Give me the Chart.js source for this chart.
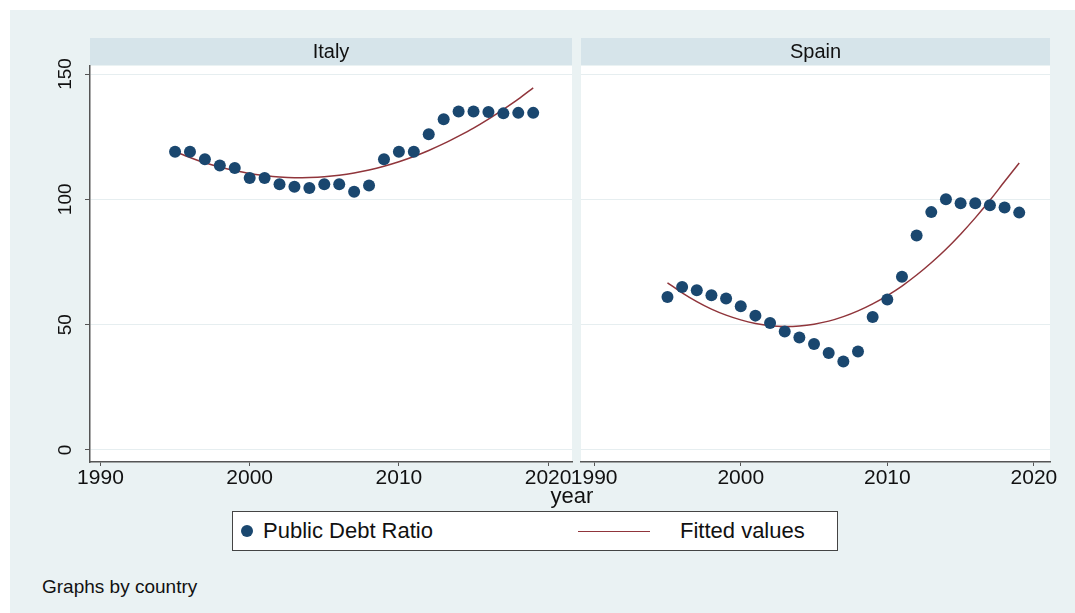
<!DOCTYPE html>
<html>
<head>
<meta charset="utf-8">
<script src="https://cdn.jsdelivr.net/npm/chart.js@4.4.1/dist/chart.umd.min.js"></script>
<style>
  html,body{margin:0;padding:0;}
  body{width:1075px;height:613px;background:#ffffff;position:relative;overflow:hidden;font-family:"Liberation Sans",Arial,Helvetica,sans-serif;color:#111;}
  #bg{position:absolute;left:10px;top:10px;width:1065px;height:603px;background:#EAF2F3;}
  .panel{position:absolute;}
  #italyBox{left:20px;top:36px;width:560px;height:470px;}
  #spainBox{left:555px;top:36px;width:510px;height:470px;}
  #xtitle{position:absolute;left:522px;width:100px;top:485px;text-align:center;font-size:22px;line-height:22px;color:#111;}
  #legend{position:absolute;left:232px;top:511px;width:604px;height:38px;background:#fff;border:1px solid #444;}
  #legend .dot{position:absolute;left:8px;top:13px;width:12px;height:12px;border-radius:50%;background:#1A476F;}
  #legend .t1{position:absolute;left:30px;top:8px;font-size:22px;line-height:22px;}
  #legend .ln{position:absolute;left:345px;top:19px;width:72px;height:0;border-top:1.6px solid #90353B;}
  #legend .t2{position:absolute;left:447px;top:8px;font-size:22px;line-height:22px;}
  #note{position:absolute;left:42px;top:577px;font-size:19px;line-height:19px;}
</style>
</head>
<body>
<div id="bg"></div>
<div class="panel" id="italyBox"><canvas id="italy"></canvas></div>
<div class="panel" id="spainBox"><canvas id="spain"></canvas></div>
<div id="xtitle">year</div>
<div id="legend"><span class="dot"></span><span class="t1">Public Debt Ratio</span><span class="ln"></span><span class="t2">Fitted values</span></div>
<div id="note">Graphs by country</div>
<script>
const years = [1995,1996,1997,1998,1999,2000,2001,2002,2003,2004,2005,2006,2007,2008,2009,2010,2011,2012,2013,2014,2015,2016,2017,2018,2019];
const italyDebt = [119,119,116,113.5,112.5,108.5,108.5,106,105,104.5,106,106,103,105.5,116,119,119,126,132,135,135,134.8,134.3,134.5,134.5];
const italyFit  = [119.0,116.7,114.6,112.9,111.5,110.3,109.5,108.9,108.6,108.7,109.0,109.6,110.5,111.7,113.2,115.0,117.1,119.5,122.2,125.2,128.4,132.0,135.9,140.0,144.5];
const spainDebt = [61,65,63.7,61.7,60.4,57.3,53.6,50.7,47.3,44.9,42.3,38.7,35.3,39.3,53.1,60,69.1,85.6,94.9,100,98.4,98.4,97.6,96.7,94.7];
const spainFit  = [66.7,62.7,59.2,56.2,53.8,51.9,50.5,49.6,49.3,49.5,50.2,51.4,53.2,55.5,58.3,61.6,65.4,69.8,74.7,80.1,86.1,92.6,99.6,107.1,114.5];
const xTicks = [1990,2000,2010,2020];
const yTicks = [0,50,100,150];
const panelNames = ["Italy","Spain"];

const FONT = '"Liberation Sans", Arial, Helvetica, sans-serif';
const MARKER = '#1A476F';
const FIT = '#90353B';
const AXIS = '#555555';
const GRID = '#E6EEF0';

const panelPlugin = {
  id: 'panelDeco',
  beforeDraw(chart, args, opts) {
    const ctx = chart.ctx, a = chart.chartArea;
    ctx.save();
    ctx.fillStyle = '#ffffff';
    ctx.fillRect(a.left, a.top, a.right - a.left, a.bottom - a.top);
    ctx.fillStyle = '#D6E4EA';
    ctx.fillRect(a.left, a.top - 28, a.right - a.left, 27);
    ctx.fillStyle = '#111';
    ctx.font = '20px ' + FONT;
    ctx.textAlign = 'center';
    ctx.textBaseline = 'middle';
    ctx.fillText(opts.title, (a.left + a.right) / 2, a.top - 14);
    ctx.restore();
  },
  afterDraw(chart, args, opts) {
    if (!opts.yLabels) return;
    const ctx = chart.ctx, ys = chart.scales.y, a = chart.chartArea;
    ctx.save();
    ctx.fillStyle = '#111';
    ctx.font = '19px ' + FONT;
    ctx.textAlign = 'center';
    ctx.textBaseline = 'middle';
    yTicks.forEach(v => {
      const py = ys.getPixelForValue(v);
      ctx.save();
      ctx.translate(a.left - 24, py);
      ctx.rotate(-Math.PI / 2);
      ctx.fillText(String(v), 0, 0);
      ctx.restore();
    });
    ctx.restore();
  }
};

function makePanel(canvasId, name, debt, fit, xmin, xmax, yWidth, padRight, showY) {
  const pts = years.map((yr, i) => ({x: yr, y: debt[i]}));
  const fpts = years.map((yr, i) => ({x: yr, y: fit[i]}));
  return new Chart(document.getElementById(canvasId), {
    type: 'scatter',
    data: {
      datasets: [
        {label: 'Fitted values', data: fpts, showLine: true, borderColor: FIT, borderWidth: 1.5, pointRadius: 0, tension: 0.3, order: 2},
        {label: 'Public Debt Ratio', data: pts, backgroundColor: MARKER, borderColor: MARKER, pointRadius: 6, pointBorderWidth: 0, order: 1}
      ]
    },
    options: {
      responsive: true,
      maintainAspectRatio: false,
      animation: false,
      layout: {padding: {top: 30, right: padRight, left: 0, bottom: 0}},
      plugins: {legend: {display: false}, tooltip: {enabled: false}, panelDeco: {title: name, yLabels: showY}},
      scales: {
        x: {
          type: 'linear', min: xmin, max: xmax,
          afterBuildTicks: s => { s.ticks = xTicks.map(v => ({value: v})); },
          afterFit: s => { s.height = 44; },
          grid: {drawOnChartArea: false, drawTicks: true, tickLength: 4, tickColor: AXIS, color: AXIS},
          border: {display: true, color: AXIS, width: 1.5},
          ticks: {color: '#111', font: {family: FONT, size: 21}, padding: 0, maxRotation: 0, autoSkip: false, callback: v => String(v)}
        },
        y: {
          type: 'linear', min: -4.8, max: 153.2,
          afterBuildTicks: s => { s.ticks = yTicks.map(v => ({value: v})); },
          afterFit: s => { s.width = yWidth; },
          grid: {drawOnChartArea: true, drawTicks: showY, tickLength: 5, color: GRID, tickColor: AXIS, lineWidth: 1},
          border: {display: showY, color: AXIS, width: 1.5},
          ticks: {display: false}
        }
      }
    },
    plugins: [panelPlugin]
  });
}

makePanel('italy', panelNames[0], italyDebt, italyFit, 1989.3, 2021.6, 70, 8, true);
makePanel('spain', panelNames[1], spainDebt, spainFit, 1989.1, 2021.1, 26, 15, false);
</script>
</body>
</html>
